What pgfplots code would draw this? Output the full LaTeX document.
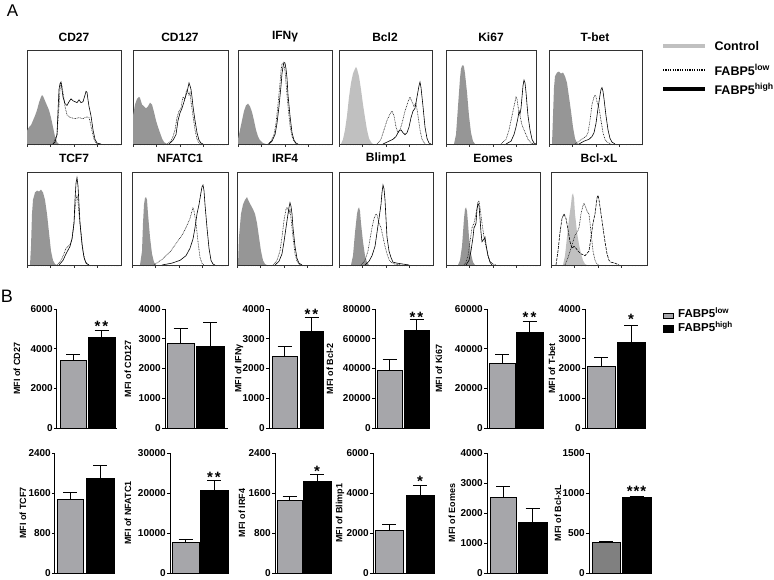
\documentclass[border=0pt]{standalone}
\usepackage{pgfplots}
\pgfplotsset{compat=1.18}
\usepackage{fontspec}
\setmainfont{Liberation Sans}
\definecolor{bargray}{RGB}{166,166,170}
\definecolor{bargray2}{RGB}{128,128,128}
\definecolor{hgray}{RGB}{150,150,150}
\definecolor{hlight}{RGB}{192,192,192}
\definecolor{frame}{RGB}{50,50,50}
\pgfplotsset{
 hist/.style={scale only axis, anchor=south west, xmin=0, ymin=0, ymax=100,
   axis line style={line width=0.9pt, frame}, ytick=\empty,
   xtick={0,23.5,47,70.5},
   minor xtick={7.1,11.2,14.1,16.4,18.3,19.9,21.2,22.4,30.6,34.7,37.6,39.9,41.8,43.4,44.7,45.9,54.1,58.2,61.1,63.4,65.3,66.9,68.2,69.4,77.6,81.7,84.6,86.9,88.8,90.4,91.7,92.9},
   xticklabels={}, xtick pos=left, xtick align=outside,
   major tick length=3pt, minor tick length=1.5pt,
   tick style={line width=0.5pt, frame}},
 hi/.style={black, line width=0.6pt},
 lo/.style={black!85, line width=0.6pt, dash pattern=on 0.8pt off 0.8pt},
 bp/.style={scale only axis, anchor=south west, xmin=0, ymin=0, clip=false,
   axis x line*=bottom, axis y line*=left,
   axis line style={line width=1pt, black, -},
   xtick=\empty, ytick align=outside, ytick pos=left,
   major tick length=3pt, tick style={line width=1pt, black},
   yticklabel style={font=\bfseries\fontsize{10}{10}\selectfont, inner sep=1pt},
   ylabel style={font=\bfseries\fontsize{9}{9}\selectfont},
   scaled y ticks=false,
   /pgf/number format/1000 sep={},
   /pgf/number format/assume math mode=true},
 lx/.style={ylabel style={at={([xshift=-#1pt]axis description cs:0,0.5)}, anchor=center}},
 gb/.style={ybar, fill=bargray, draw=black, line width=0.9pt,
   error bars/y dir=plus, error bars/y explicit,
   error bars/error bar style={line width=1pt, black, solid},
   error bars/error mark options={rotate=90, line width=1pt, mark size=7pt, black}},
 bb/.style={gb, fill=black},
}
\tikzset{
 ttl/.style={font=\bfseries\fontsize{12}{12}\selectfont},
 st/.style={font=\bfseries\fontsize{15}{15}\selectfont, yshift=-3.5pt},
}
\begin{document}
\begin{tikzpicture}
\useasboundingbox (0,0) rectangle (774pt,579pt);
\node[font=\fontsize{17}{17}\selectfont] at (12.5pt,568pt) {A};
\node[font=\fontsize{18}{18}\selectfont] at (7pt,282.5pt) {B};

% ---------- Histogram titles ----------
\node[ttl] at (74pt,542pt) {CD27};
\node[ttl] at (180pt,542pt) {CD127};
\node[ttl] at (285pt,542pt) {IFNγ};
\node[ttl] at (385pt,542pt) {Bcl2};
\node[ttl] at (491pt,542pt) {Ki67};
\node[ttl] at (595pt,542pt) {T-bet};
\node[ttl] at (74pt,421pt) {TCF7};
\node[ttl] at (180pt,421pt) {NFATC1};
\node[ttl] at (285pt,421pt) {IRF4};
\node[ttl] at (386pt,421pt) {Blimp1};
\node[ttl] at (493pt,421pt) {Eomes};
\node[ttl] at (599pt,421pt) {Bcl-xL};

% ---------- Legend A ----------
\draw[line width=3.5pt, hlight] (663pt,533pt) -- (705pt,533pt);
\draw[line width=1.5pt, dash pattern=on 1.2pt off 1.2pt] (663pt,509pt) -- (705pt,509pt);
\draw[line width=3.5pt] (663pt,490pt) -- (705pt,490pt);
\node[anchor=west, font=\bfseries\fontsize{12.5}{13}\selectfont] at (711pt,533pt) {Control};
\node[anchor=west, font=\bfseries\fontsize{12.5}{13}\selectfont] at (711pt,509pt) {FABP5\textsuperscript{low}};
\node[anchor=west, font=\bfseries\fontsize{12.5}{13}\selectfont] at (711pt,490pt) {FABP5\textsuperscript{high}};

% ---------- Legend B ----------
\draw[fill=bargray, line width=0.6pt] (663pt,261pt) rectangle (673pt,266pt);
\draw[fill=black, line width=0.6pt] (663pt,247pt) rectangle (673pt,254pt);
\node[anchor=base west, inner sep=0pt, font=\bfseries\fontsize{11.5}{12}\selectfont] at (678pt,261pt) {FABP5\textsuperscript{low}};
\node[anchor=base west, inner sep=0pt, font=\bfseries\fontsize{11.5}{12}\selectfont] at (678pt,247pt) {FABP5\textsuperscript{high}};

% ================= Histograms row 1 =================
\begin{axis}[hist, at={(27pt,435pt)}, width=94pt, height=94pt, xmax=94]
\addplot[fill=hgray, draw=none] coordinates {(0,14)(2,18)(4,20)(6,25)(8,30)(10,36)(12,44)(14,50)(15,52)(16,51)(18,46)(20,41)(22,36)(24,28)(26,18)(28,8)(30,2)(32,0)} \closedcycle;
\addplot[lo] coordinates {(26,0)(30,10)(32,40)(33,58)(34,65)(35,62)(36,55)(38,40)(40,31)(42,29)(44,28)(48,27)(52,28)(56,27)(60,29)(62,28)(63,24)(65,14)(67,5)(69,1)(72,0)};
\addplot[hi] coordinates {(26,0)(28,2)(30,10)(31,35)(32,58)(33,64)(34,66)(35,58)(36,50)(38,43)(40,41)(42,45)(44,48)(46,46)(48,45)(50,44)(52,47)(54,44)(56,45)(58,52)(59,56)(60,55)(61,47)(62,40)(64,30)(66,15)(68,5)(70,1)(74,0)};
\end{axis}
\begin{axis}[hist, at={(133pt,435pt)}, width=95pt, height=94pt, xmax=95]
\addplot[fill=hgray, draw=none] coordinates {(0,30)(2,42)(4,48)(6,50)(7,49)(9,42)(11,40)(13,38)(15,40)(17,44)(19,42)(21,34)(23,25)(25,18)(27,12)(29,6)(31,2)(34,0)} \closedcycle;
\addplot[lo] coordinates {(34,0)(38,3)(40,8)(42,15)(44,28)(46,35)(48,38)(49,45)(50,50)(52,48)(53,55)(54,58)(56,52)(57,55)(58,45)(60,30)(62,15)(64,5)(66,1)(68,0)};
\addplot[hi] coordinates {(36,0)(40,4)(43,10)(45,25)(47,33)(49,38)(51,45)(53,52)(54,55)(55,60)(56,65)(57,62)(58,58)(59,50)(60,40)(62,25)(64,12)(66,4)(68,1)(70,0)};
\end{axis}
\begin{axis}[hist, at={(238pt,435pt)}, width=94pt, height=94pt, xmax=94]
\addplot[fill=hgray, draw=none] coordinates {(0,5)(2,15)(4,25)(6,35)(8,41)(10,43)(12,40)(14,34)(16,25)(18,15)(20,8)(22,4)(25,1)(28,0)} \closedcycle;
\addplot[lo] coordinates {(30,0)(33,3)(36,10)(38,22)(40,42)(42,65)(43,78)(44,85)(45,86)(46,84)(47,78)(48,65)(50,40)(52,20)(54,8)(56,3)(58,0)};
\addplot[hi] coordinates {(31,0)(34,3)(37,10)(39,22)(41,40)(43,62)(44,75)(45,82)(46,87)(47,86)(48,80)(49,70)(50,52)(52,30)(54,12)(56,4)(58,1)(60,0)};
\end{axis}
\begin{axis}[hist, at={(339pt,435pt)}, width=93pt, height=94pt, xmax=93]
\addplot[fill=hlight, draw=none] coordinates {(2,0)(4,5)(6,15)(8,30)(10,50)(12,65)(14,75)(16,80)(17,82)(18,80)(20,72)(22,58)(24,42)(26,28)(28,15)(30,6)(32,2)(34,0)} \closedcycle;
\addplot[lo] coordinates {(38,0)(42,5)(45,15)(48,25)(51,32)(53,35)(55,30)(57,18)(59,12)(61,15)(63,22)(66,35)(69,45)(71,50)(73,45)(75,40)(77,44)(79,30)(81,15)(83,5)(86,0)};
\addplot[hi] coordinates {(44,0)(50,3)(54,5)(57,8)(60,14)(62,15)(64,12)(66,10)(68,12)(70,18)(72,28)(74,35)(76,38)(78,50)(80,62)(81,66)(82,60)(84,40)(86,18)(88,6)(90,1)(92,0)};
\end{axis}
\begin{axis}[hist, at={(446pt,435pt)}, width=90pt, height=94pt, xmax=90]
\addplot[fill=hgray, draw=none] coordinates {(8,0)(10,10)(12,40)(14,70)(15,80)(16,83)(17,84)(18,82)(19,75)(21,55)(23,30)(25,12)(27,3)(29,0)} \closedcycle;
\addplot[lo] coordinates {(55,0)(60,5)(63,15)(65,25)(67,35)(69,45)(70,50)(71,48)(72,40)(74,30)(76,20)(78,15)(80,10)(82,5)(85,1)(88,0)};
\addplot[hi] coordinates {(60,0)(65,3)(68,10)(70,18)(72,28)(73,35)(74,32)(75,38)(76,50)(77,62)(78,68)(79,65)(80,55)(81,42)(82,30)(84,15)(86,5)(88,1)(90,0)};
\end{axis}
\begin{axis}[hist, at={(549pt,435pt)}, width=93pt, height=94pt, xmax=93]
\addplot[fill=hgray, draw=none] coordinates {(3,0)(4,30)(5,60)(6,72)(8,76)(10,77)(12,75)(14,76)(16,72)(18,65)(20,50)(22,35)(24,18)(26,6)(28,1)(30,0)} \closedcycle;
\addplot[lo] coordinates {(26,0)(30,3)(34,6)(37,8)(39,12)(41,25)(43,42)(45,50)(46,52)(47,50)(48,45)(50,38)(52,25)(54,12)(56,5)(58,2)(62,0)};
\addplot[hi] coordinates {(30,0)(35,3)(40,5)(43,8)(45,12)(47,22)(49,38)(51,52)(52,58)(53,60)(54,56)(55,48)(57,30)(59,15)(61,6)(63,2)(66,0)};
\end{axis}

% ================= Histograms row 2 =================
\begin{axis}[hist, at={(27pt,314pt)}, width=94pt, height=93pt, xmax=94]
\addplot[fill=hgray, draw=none] coordinates {(3,0)(4,20)(5,55)(6,70)(8,78)(10,80)(12,79)(14,81)(16,78)(18,70)(20,55)(22,35)(24,15)(26,5)(28,1)(30,0)} \closedcycle;
\addplot[lo] coordinates {(30,0)(34,5)(37,12)(39,18)(41,20)(43,22)(45,28)(47,45)(48,60)(49,70)(50,75)(51,68)(52,55)(54,35)(56,15)(58,5)(60,1)(62,0)};
\addplot[hi] coordinates {(32,0)(36,5)(39,12)(41,16)(43,20)(45,28)(47,45)(48,70)(49,88)(50,94)(51,85)(52,65)(53,45)(55,22)(57,8)(59,2)(62,0)};
\end{axis}
\begin{axis}[hist, at={(132pt,314pt)}, width=96pt, height=93pt, xmax=96]
\addplot[fill=hgray, draw=none] coordinates {(8,0)(10,15)(11,45)(12,65)(13,72)(14,73)(15,70)(16,55)(18,30)(20,12)(22,3)(24,0)} \closedcycle;
\addplot[lo] coordinates {(22,0)(26,3)(30,6)(34,10)(38,14)(42,20)(46,26)(50,32)(53,38)(56,45)(58,50)(60,58)(61,62)(62,58)(64,45)(66,25)(68,8)(70,2)(72,0)};
\addplot[hi] coordinates {(30,0)(40,2)(48,5)(54,10)(58,18)(61,28)(63,40)(65,55)(67,65)(69,78)(70,84)(71,86)(72,80)(73,65)(75,40)(77,18)(79,5)(81,1)(83,0)};
\end{axis}
\begin{axis}[hist, at={(237pt,314pt)}, width=95pt, height=93pt, xmax=95]
\addplot[fill=hgray, draw=none] coordinates {(1,0)(2,30)(4,55)(6,65)(8,70)(10,73)(12,68)(14,64)(16,60)(18,55)(20,45)(22,30)(24,15)(26,5)(28,1)(30,0)} \closedcycle;
\addplot[lo] coordinates {(36,0)(40,5)(43,15)(45,30)(47,48)(49,60)(50,62)(51,60)(52,55)(53,60)(54,50)(56,30)(58,12)(60,4)(62,1)(64,0)};
\addplot[hi] coordinates {(38,0)(42,4)(45,12)(47,25)(49,40)(51,55)(52,62)(53,67)(54,63)(55,55)(56,40)(58,20)(60,7)(62,2)(65,0)};
\end{axis}
\begin{axis}[hist, at={(339pt,314pt)}, width=94pt, height=93pt, xmax=94]
\addplot[fill=hgray, draw=none] coordinates {(12,0)(14,10)(16,35)(18,55)(19,60)(20,62)(21,58)(22,45)(24,25)(26,10)(28,3)(30,0)} \closedcycle;
\addplot[lo] coordinates {(22,0)(26,5)(29,15)(31,28)(33,40)(35,50)(37,55)(38,54)(40,45)(42,40)(44,30)(46,20)(48,12)(50,6)(52,3)(56,1)(62,0)};
\addplot[hi] coordinates {(26,0)(30,4)(33,10)(36,20)(38,35)(40,50)(42,65)(43,78)(44,86)(45,82)(46,70)(47,50)(48,30)(50,15)(52,8)(54,3)(58,2)(64,1)(70,0)};
\end{axis}
\begin{axis}[hist, at={(446pt,314pt)}, width=94pt, height=93pt, xmax=94]
\addplot[fill=hgray, draw=none] coordinates {(12,0)(14,5)(16,20)(18,50)(19,60)(20,62)(21,58)(22,45)(23,30)(25,12)(27,3)(29,0)} \closedcycle;
\addplot[lo] coordinates {(18,0)(20,3)(22,10)(24,25)(26,40)(28,45)(30,55)(32,68)(33,69)(34,62)(36,45)(38,30)(40,20)(42,10)(44,4)(47,1)(50,0)};
\addplot[hi] coordinates {(20,0)(23,5)(25,15)(27,30)(28,40)(29,42)(30,45)(31,60)(32,66)(33,64)(34,50)(35,35)(36,25)(38,28)(39,30)(40,22)(42,10)(44,3)(46,0)};
\end{axis}
\begin{axis}[hist, at={(551pt,314pt)}, width=96pt, height=93pt, xmax=96]
\addplot[fill=hlight, draw=none] coordinates {(12,0)(14,10)(16,30)(18,50)(20,65)(21,75)(22,77)(23,72)(24,55)(26,35)(28,22)(30,12)(32,5)(34,1)(36,0)} \closedcycle;
\addplot[lo] coordinates {(14,0)(17,8)(20,18)(22,25)(24,32)(26,35)(28,40)(30,55)(32,64)(33,66)(34,64)(36,58)(38,55)(40,35)(42,15)(44,5)(46,1)(48,0)};
\addplot[hi, dash pattern=on 3pt off 1pt] coordinates {(5,0)(7,15)(9,35)(11,50)(13,55)(15,50)(17,38)(19,25)(21,18)(23,20)(25,18)(27,15)(30,12)(34,10)(38,15)(40,30)(42,45)(44,55)(46,72)(47,75)(48,70)(50,55)(52,40)(54,25)(56,12)(58,5)(60,3)(64,2)(68,0)};
\end{axis}

% ================= Bar charts row 1 =================
\begin{axis}[bp, at={(57pt,151pt)}, width=60pt, height=119pt, xmax=60, ymax=6000, ytick={0,2000,4000,6000}, ylabel={MFI of CD27}, lx=40]
\addplot[gb, bar width=26pt] coordinates {(16,3400) +- (0,320)};
\addplot[bb, bar width=27pt] coordinates {(44.5,4560) +- (0,370)};
\node[st] at (axis cs:44.5,5300) {*\kern2pt*};
\end{axis}
\begin{axis}[bp, at={(165pt,151pt)}, width=63pt, height=119pt, xmax=63, ymax=4000, ytick={0,1000,2000,3000,4000}, ylabel={MFI of CD127}, lx=37]
\addplot[gb, bar width=27pt] coordinates {(15.5,2830) +- (0,510)};
\addplot[bb, bar width=28pt] coordinates {(45,2750) +- (0,790)};
\end{axis}
\begin{axis}[bp, at={(269pt,151pt)}, width=54pt, height=119pt, xmax=54, ymax=4000, ytick={0,1000,2000,3000,4000}, ylabel={MFI of IFNγ}, lx=30]
\addplot[gb, bar width=25pt] coordinates {(15.5,2400) +- (0,330)};
\addplot[bb, bar width=23pt] coordinates {(42.5,3240) +- (0,470)};
\node[st] at (axis cs:42.5,3950) {*\kern2pt*};
\end{axis}
\begin{axis}[bp, at={(375pt,151pt)}, width=55pt, height=119pt, xmax=55, ymax=80000, ytick={0,20000,40000,60000,80000}, ylabel={MFI of Bcl-2}, lx=45]
\addplot[gb, bar width=25pt] coordinates {(14.5,38600) +- (0,7400)};
\addplot[bb, bar width=25pt] coordinates {(41.5,65400) +- (0,7500)};
\node[st] at (axis cs:41.5,77000) {*\kern2pt*};
\end{axis}
\begin{axis}[bp, at={(487pt,151pt)}, width=56pt, height=119pt, xmax=56, ymax=60000, ytick={0,20000,40000,60000}, ylabel={MFI of Ki67}, lx=48]
\addplot[gb, bar width=26pt] coordinates {(15,32600) +- (0,4500)};
\addplot[bb, bar width=27pt] coordinates {(42.5,48300) +- (0,5600)};
\node[st] at (axis cs:42.5,57500) {*\kern2pt*};
\end{axis}
\begin{axis}[bp, at={(585pt,151pt)}, width=61pt, height=119pt, xmax=61, ymax=4000, ytick={0,1000,2000,3000,4000}, ylabel={MFI of T-bet}, lx=33]
\addplot[gb, bar width=28pt] coordinates {(16,2070) +- (0,300)};
\addplot[bb, bar width=28pt] coordinates {(46,2880) +- (0,580)};
\node[st] at (axis cs:46,3760) {*};
\end{axis}

% ================= Bar charts row 2 =================
\begin{axis}[bp, at={(55pt,6pt)}, width=60pt, height=120pt, xmax=60, ymax=2400, ytick={0,800,1600,2400}, ylabel={MFI of TCF7}, lx=32]
\addplot[gb, bar width=26pt] coordinates {(15,1480) +- (0,140)};
\addplot[bb, bar width=28pt] coordinates {(45,1900) +- (0,250)};
\end{axis}
\begin{axis}[bp, at={(170pt,6pt)}, width=59pt, height=120pt, xmax=59, ymax=30000, ytick={0,10000,20000,30000}, ylabel={MFI of NFATC1}, lx=42]
\addplot[gb, bar width=27pt] coordinates {(15.5,7600) +- (0,800)};
\addplot[bb, bar width=28pt] coordinates {(44,20700) +- (0,2500)};
\node[st] at (axis cs:44,24800) {*\kern2pt*};
\end{axis}
\begin{axis}[bp, at={(275pt,6pt)}, width=57pt, height=120pt, xmax=57, ymax=2400, ytick={0,800,1600,2400}, ylabel={MFI of IRF4}, lx=33]
\addplot[gb, bar width=25pt] coordinates {(14.5,1450) +- (0,80)};
\addplot[bb, bar width=28pt] coordinates {(42,1840) +- (0,135)};
\node[st] at (axis cs:42,2110) {*};
\end{axis}
\begin{axis}[bp, at={(373pt,6pt)}, width=62pt, height=120pt, xmax=62, ymax=6000, ytick={0,2000,4000,6000}, ylabel={MFI of Blimp1}, lx=33]
\addplot[gb, bar width=28pt] coordinates {(16,2130) +- (0,300)};
\addplot[bb, bar width=28pt] coordinates {(47,3860) +- (0,540)};
\node[st] at (axis cs:47,4750) {*};
\end{axis}
\begin{axis}[bp, at={(487pt,6pt)}, width=61pt, height=120pt, xmax=61, ymax=4000, ytick={0,1000,2000,3000,4000}, ylabel={MFI of Eomes}, lx=35]
\addplot[gb, bar width=26pt] coordinates {(16,2520) +- (0,370)};
\addplot[bb, bar width=29pt] coordinates {(45.5,1700) +- (0,460)};
\end{axis}
\begin{axis}[bp, at={(589pt,6pt)}, width=63pt, height=120pt, xmax=63, ymax=1500, ytick={0,500,1000,1500}, ylabel={MFI of Bcl-xL}, lx=31]
\addplot[gb, fill=bargray2, bar width=28pt] coordinates {(17,385) +- (0,10)};
\addplot[bb, bar width=29pt] coordinates {(47.5,950) +- (0,8)};
\node[st] at (axis cs:47.5,1070) {*\kern1pt*\kern1pt*};
\end{axis}
\end{tikzpicture}
\end{document}
